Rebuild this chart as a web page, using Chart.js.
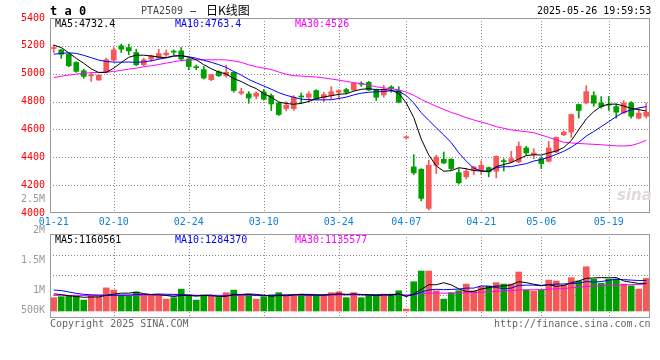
<!DOCTYPE html>
<html>
<head>
<meta charset="utf-8">
<script src="https://cdn.jsdelivr.net/npm/chart.js@4.4.1/dist/chart.umd.min.js"></script>
<style>
  body { margin: 0; background: #fff; }
  #wrap { position: relative; width: 660px; height: 360px; overflow: hidden; font-family: "DejaVu Sans Mono", "Liberation Mono", monospace; font-size: 10px; }
  #wrap canvas { position: absolute; left: 0; }
  .t { position: absolute; white-space: pre; line-height: 10px; }
</style>
</head>
<body>
<div id="wrap">
  <canvas id="kline" width="660" height="232" style="top:0px"></canvas>
  <canvas id="vol" width="660" height="170" style="top:190px"></canvas>

  <div class="t" style="left:50px;top:5px;font-size:12px;line-height:12px;font-weight:bold">t a 0</div>
  <div class="t" style="left:141px;top:6px;color:#444">PTA2509</div>
  <div class="t" style="left:190px;top:6px">—</div>
  <div class="t" style="left:206px;top:4px;font-family:'Noto Sans CJK SC';font-size:12px;line-height:12px">日K线图</div>
  <div class="t" style="left:537px;top:6px">2025-05-26 19:59:53</div>

  <div class="t" style="left:55px;top:19px;color:#000">MA5:4732.4</div>
  <div class="t" style="left:175px;top:19px;color:#0000ff">MA10:4763.4</div>
  <div class="t" style="left:295px;top:19px;color:#ff00ff">MA30:4526</div>

  <div class="t" style="left:55px;top:235px;color:#000">MA5:1160561</div>
  <div class="t" style="left:175px;top:235px;color:#0000ff">MA10:1284370</div>
  <div class="t" style="left:295px;top:235px;color:#ff00ff">MA30:1135577</div>

  <div class="t" style="left:50px;top:319px;color:#666">Copyright 2025 SINA.COM</div>
  <div class="t" style="left:494px;top:319px;color:#666">http://finance.sina.com.cn</div>
  <div class="t" style="left:617px;top:188px;font-family:'DejaVu Sans';font-size:15px;line-height:15px;font-weight:bold;font-style:italic;color:#e2d8d8">sina</div>
</div>

<script>
// trading days shown on the x axis
const dates = ['01-21','01-22','01-23','01-24','01-27','02-05','02-06','02-07','02-10','02-11',
  '02-12','02-13','02-14','02-17','02-18','02-19','02-20','02-21','02-24','02-25',
  '02-26','02-27','02-28','03-03','03-04','03-05','03-06','03-07','03-10','03-11',
  '03-12','03-13','03-14','03-17','03-18','03-19','03-20','03-21','03-24','03-25',
  '03-26','03-27','03-28','03-31','04-01','04-02','04-03','04-07','04-08','04-09',
  '04-10','04-11','04-14','04-15','04-16','04-17','04-18','04-21','04-22','04-23',
  '04-24','04-25','04-28','04-29','04-30','05-06','05-07','05-08','05-09','05-12',
  '05-13','05-14','05-15','05-16','05-19','05-20','05-21','05-22','05-23','05-26'];
const shownDates = ['01-21','02-10','02-24','03-10','03-24','04-07','04-21','05-06','05-19'];

const openP = [5181,5171,5140,5081,5021,4984,4955,5010,5098,5200,
  5188,5152,5064,5105,5112,5136,5159,5164,5105,5047,
  5029,4957,5014,4986,5010,4860,4855,4838,4870,4843,
  4790,4750,4750,4838,4831,4879,4826,4843,4867,4886,
  4883,4928,4938,4883,4848,4905,4879,4540,4331,4314,
  4033,4343,4386,4386,4290,4260,4307,4307,4326,4300,
  4374,4367,4367,4467,4419,4390,4371,4438,4562,4581,
  4779,4790,4843,4790,4778,4764,4719,4790,4681,4695];
const highP = [5207,5176,5145,5086,5033,5010,4993,5112,5188,5212,
  5212,5176,5112,5133,5176,5171,5171,5188,5110,5062,
  5052,4995,5021,5062,5014,4895,4871,4871,4886,4855,
  4795,4800,4843,4862,4871,4886,4867,4907,4886,4895,
  4935,4943,4945,4890,4917,4914,4907,4552,4419,4319,
  4379,4414,4438,4390,4319,4319,4333,4374,4330,4410,
  4390,4443,4510,4479,4462,4402,4514,4546,4590,4710,
  4783,4914,4871,4836,4836,4783,4807,4800,4748,4790];
const lowP = [5152,5110,5050,5010,4967,4945,4952,5005,5088,5152,
  5136,5057,5057,5088,5110,5124,5136,5093,5029,5029,
  4962,4950,4979,4974,4867,4850,4788,4819,4810,4736,
  4700,4733,4736,4790,4795,4814,4800,4819,4824,4855,
  4879,4909,4879,4807,4831,4867,4790,4530,4276,4088,
  4021,4283,4355,4307,4207,4245,4276,4276,4260,4252,
  4302,4360,4360,4414,4390,4319,4367,4433,4555,4543,
  4681,4783,4767,4752,4736,4681,4714,4681,4676,4681];
const closeP = [5185,5140,5057,5017,4981,4988,4990,5100,5171,5176,
  5164,5064,5100,5129,5145,5148,5155,5105,5052,5043,
  4969,4993,4986,5010,4879,4871,4826,4860,4817,4783,
  4707,4774,4831,4833,4855,4819,4850,4871,4879,4867,
  4931,4924,4883,4831,4888,4893,4795,4543,4288,4105,
  4343,4402,4359,4319,4217,4300,4331,4343,4295,4407,
  4369,4390,4479,4431,4431,4355,4467,4543,4581,4707,
  4736,4871,4788,4764,4774,4724,4790,4695,4717,4724];

const ma5 = [5205,5188,5150,5110,5075,5035,5008,5010,5040,5080,
  5118,5133,5133,5127,5119,5115,5128,5130,5118,5100,
  5065,5036,5012,4998,4965,4944,4916,4893,4857,4831,
  4797,4786,4781,4787,4801,4821,4833,4842,4852,4856,
  4875,4888,4893,4885,4886,4882,4858,4790,4685,4530,
  4417,4338,4300,4304,4325,4318,4305,4301,4298,4333,
  4348,4362,4388,4412,4418,4416,4432,4445,4470,4520,
  4598,4675,4728,4766,4781,4782,4768,4751,4742,4732];
const ma10 = [5140,5146,5150,5146,5132,5115,5098,5088,5083,5083,
  5084,5082,5085,5093,5104,5114,5126,5129,5122,5111,
  5096,5082,5065,5045,5016,4990,4959,4935,4912,4889,
  4864,4845,4831,4817,4814,4812,4812,4813,4822,4832,
  4848,4860,4867,4870,4872,4878,4873,4843,4790,4720,
  4665,4612,4560,4505,4432,4372,4322,4302,4299,4326,
  4332,4333,4344,4354,4373,4384,4400,4421,4443,4472,
  4508,4552,4585,4620,4656,4692,4723,4740,4755,4763];
const ma30 = [4972,4982,4990,4997,5003,5007,5010,5012,5016,5024,
  5033,5040,5050,5057,5066,5076,5086,5094,5098,5100,
  5100,5100,5100,5099,5092,5081,5064,5050,5040,5030,
  5012,4996,4986,4983,4980,4976,4970,4962,4954,4945,
  4936,4930,4918,4906,4898,4892,4884,4868,4845,4815,
  4790,4766,4744,4722,4705,4684,4668,4653,4638,4620,
  4608,4597,4590,4584,4576,4560,4543,4524,4508,4503,
  4499,4496,4493,4490,4486,4482,4481,4485,4500,4522];

const volume = [560000,600000,630000,630000,460000,630000,600000,970000,880000,670000,
  630000,800000,670000,670000,630000,500000,560000,920000,670000,460000,
  670000,630000,570000,770000,880000,630000,710000,500000,600000,670000,
  770000,670000,670000,710000,670000,670000,670000,770000,810000,560000,
  770000,560000,670000,670000,710000,710000,850000,80000,1230000,1680000,
  1680000,850000,500000,770000,850000,1130000,850000,1020000,1050000,1190000,
  1130000,1130000,1640000,880000,840000,880000,1300000,1260000,1090000,1400000,
  1260000,1860000,1340000,1160000,1340000,1340000,1130000,1060000,920000,1370000];
const volMa5 = [720000,690000,640000,610000,576000,590000,590000,658000,708000,750000,
  750000,790000,730000,688000,680000,654000,606000,656000,656000,622000,
  656000,670000,600000,620000,704000,696000,712000,698000,664000,622000,
  650000,642000,676000,698000,698000,678000,678000,698000,718000,696000,
  716000,694000,674000,646000,676000,664000,722000,604000,716000,910000,
  1104000,1104000,1188000,1096000,930000,820000,820000,924000,980000,1048000,
  1048000,1104000,1228000,1194000,1124000,1074000,1108000,1032000,1074000,1186000,
  1262000,1374000,1390000,1404000,1392000,1408000,1262000,1206000,1158000,1161000];
const volMa10 = [880000,860000,800000,740000,700000,680000,670000,665000,660000,663000,
  670000,690000,694000,698000,715000,702000,698000,693000,672000,651000,
  655000,638000,628000,638000,663000,676000,691000,649000,642000,663000,
  673000,677000,687000,681000,660000,664000,660000,687000,708000,697000,
  697000,686000,686000,682000,686000,690000,708000,639000,681000,793000,
  884000,913000,896000,906000,920000,962000,962000,1056000,1038000,989000,
  934000,962000,1076000,1087000,1086000,1061000,1106000,1130000,1134000,1155000,
  1168000,1241000,1211000,1239000,1289000,1335000,1318000,1298000,1281000,1284000];
const volMa30 = [655000,657000,656000,658000,655000,656000,657000,660000,662000,662000,
  663000,664000,664000,663000,664000,662000,661000,663000,662000,660000,
  660000,661000,659000,660000,662000,661000,663000,660000,659000,659000,
  661000,662000,664000,665000,664000,665000,666000,668000,671000,674000,
  675000,674000,676000,677000,678000,680000,683000,675000,690000,721000,
  747000,752000,748000,751000,755000,768000,772000,790000,803000,830000,
  842000,853000,885000,890000,893000,899000,915000,930000,938000,979000,
  992000,1030000,1045000,1058000,1072000,1090000,1098000,1108000,1116000,1136000];
const volTickLabels = ['2.5M', '2M', '1.5M', '1M', '500K'];

const RED = '#f65858';
const GREEN = '#009f00';
const GRID = '#8c8c8c';
const candleColor = closeP.map((c, i) => c >= openP[i] ? RED : GREEN);

Chart.defaults.font.family = "'DejaVu Sans Mono', 'Liberation Mono', monospace";
Chart.defaults.font.size = 10;

// grey frame round the plot area
const framePlugin = {
  id: 'frame',
  afterDraw(chart) {
    const a = chart.chartArea;
    const c = chart.ctx;
    c.save();
    c.strokeStyle = '#999';
    c.lineWidth = 1;
    c.strokeRect(Math.round(a.left) + 0.5, Math.round(a.top) + 0.5,
      Math.round(a.right - a.left) - 1, Math.round(a.bottom - a.top) - 1);
    c.restore();
  }
};

// dotted grid at the shown dates and at the given y values, placed by the scales
const dotGridPlugin = {
  id: 'dotGrid',
  beforeDatasetsDraw(chart, args, opts) {
    const a = chart.chartArea;
    const c = chart.ctx;
    const xs = chart.scales.x, ys = chart.scales.y;
    c.save();
    c.strokeStyle = GRID;
    c.lineWidth = 1;
    c.setLineDash([1, 2]);
    c.beginPath();
    shownDates.slice(1).forEach(d => {
      const x = Math.round(xs.getPixelForValue(dates.indexOf(d))) + 0.5;
      c.moveTo(x, a.top);
      c.lineTo(x, a.bottom);
    });
    (opts.yValues || []).forEach(v => {
      const y = Math.round(ys.getPixelForValue(v)) + 0.5;
      c.moveTo(a.left, y);
      c.lineTo(a.right, y);
    });
    c.stroke();
    c.restore();
  }
};

function maLine(data, color) {
  return { type: 'line', data: data, borderColor: color, borderWidth: 1,
    pointRadius: 0, tension: 0, order: 1 };
}

new Chart(document.getElementById('kline'), {
  type: 'bar',
  data: {
    labels: dates,
    datasets: [
      { data: lowP.map((l, i) => [l, highP[i]]), backgroundColor: candleColor,
        barThickness: 1, grouped: false, order: 3 },
      { data: openP.map((o, i) => [o, closeP[i]]), backgroundColor: candleColor,
        barThickness: 5, minBarLength: 1, grouped: false, order: 2 },
      maLine(ma5, '#000000'),
      maLine(ma10, '#0000ff'),
      maLine(ma30, '#ff00ff')
    ]
  },
  options: {
    responsive: false,
    animation: false,
    devicePixelRatio: 1,
    layout: { padding: { top: 18, right: 10, left: 0, bottom: 0 } },
    plugins: {
      legend: { display: false },
      tooltip: { enabled: false },
      dotGrid: { yValues: [4200, 4400, 4600, 4800, 5000, 5200] }
    },
    scales: {
      x: {
        offset: true,
        grid: { display: false, drawTicks: false },
        border: { display: false },
        ticks: {
          autoSkip: false, maxRotation: 0, padding: 3, color: '#1080dd',
          callback: (v, i) => shownDates.includes(dates[i]) ? dates[i] : ''
        },
        afterFit: s => { s.height = 19; }
      },
      y: {
        min: 4000, max: 5400,
        ticks: { stepSize: 200, color: '#ff0000', padding: 5, callback: v => String(v) },
        grid: { display: false, drawTicks: false },
        border: { display: false },
        afterFit: s => { s.width = 50; }
      }
    }
  },
  plugins: [dotGridPlugin, framePlugin]
});

// volume axis: label positions and dotted grid rows
const volLabelAt = [4706000, 3403000, 2143000, 882000, 42000];
const volGridAt = [2353000, 1513000, 672000];

new Chart(document.getElementById('vol'), {
  type: 'bar',
  data: {
    labels: dates,
    datasets: [
      maLine(volMa5, '#000000'),
      maLine(volMa10, '#0000ff'),
      maLine(volMa30, '#ff00ff'),
      { data: volume, backgroundColor: candleColor, barThickness: 6, order: 2 }
    ]
  },
  options: {
    responsive: false,
    animation: false,
    devicePixelRatio: 1,
    layout: { padding: { top: 44, right: 10, left: 0, bottom: 0 } },
    plugins: {
      legend: { display: false },
      tooltip: { enabled: false },
      dotGrid: { yValues: volGridAt }
    },
    scales: {
      x: {
        offset: true,
        grid: { display: false, drawTicks: false },
        border: { display: false },
        ticks: { display: false },
        afterFit: s => { s.height = 42; }
      },
      y: {
        min: -294000, max: 3235000,
        afterBuildTicks: s => {
          s.ticks = volLabelAt.slice().sort((a, b) => a - b).map(v => ({ value: v }));
        },
        ticks: {
          autoSkip: false, color: '#999', padding: 5,
          callback: v => {
            const k = volLabelAt.indexOf(v);
            return k >= 0 ? volTickLabels[k] : '';
          }
        },
        grid: { display: false, drawTicks: false },
        border: { display: false },
        afterFit: s => { s.width = 50; }
      }
    }
  },
  plugins: [dotGridPlugin, framePlugin]
});
</script>
</body>
</html>
